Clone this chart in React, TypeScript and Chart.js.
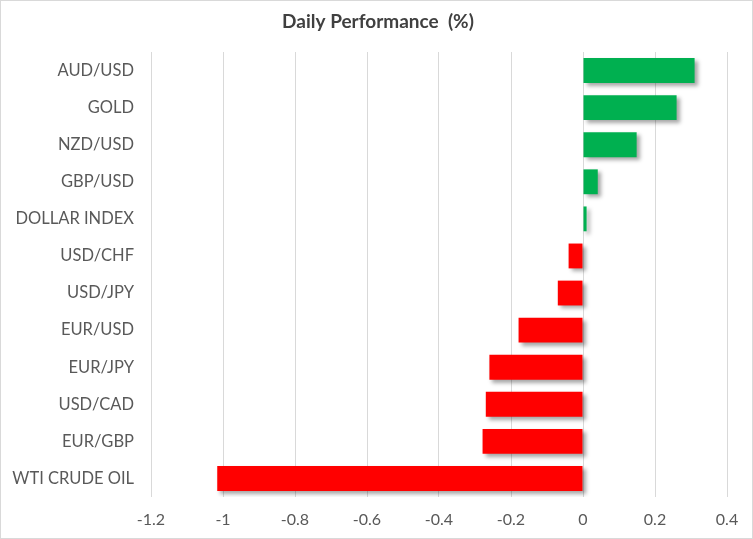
import React, { useEffect, useRef } from "react";
import { Chart, registerables } from "chart.js";

Chart.register(...registerables);

const categories = [
  "AUD/USD",
  "GOLD",
  "NZD/USD",
  "GBP/USD",
  "DOLLAR INDEX",
  "USD/CHF",
  "USD/JPY",
  "EUR/USD",
  "EUR/JPY",
  "USD/CAD",
  "EUR/GBP",
  "WTI CRUDE OIL",
];
const performance = [0.31, 0.26, 0.149, 0.041, 0.01, -0.04, -0.07, -0.179, -0.26, -0.27, -0.279, -1.016];
const chartTitle = "Daily Performance  (%)";
const xMin = -1.2;
const xMax = 0.4;
const xStep = 0.2;

const GREEN = "#00B050";
const RED = "#FF0000";
const FONT = "Lato, 'Open Sans', sans-serif";

const shadowPlugin = {
  id: "barShadow",
  beforeDatasetsDraw(chart: any) {
    const ctx = chart.ctx;
    ctx.save();
    ctx.shadowColor = "rgba(0,0,0,0.35)";
    ctx.shadowBlur = 4;
    ctx.shadowOffsetX = 3;
    ctx.shadowOffsetY = 3;
  },
  afterDatasetsDraw(chart: any) {
    chart.ctx.restore();
  },
};

const titlePlugin = {
  id: "centeredTitle",
  afterDraw(chart: any) {
    const ctx = chart.ctx;
    ctx.save();
    ctx.font = `bold 19px ${FONT}`;
    ctx.fillStyle = "#404040";
    ctx.textAlign = "center";
    ctx.textBaseline = "middle";
    ctx.fillText(chartTitle, chart.width / 2 + 1.5, 21);
    ctx.restore();
  },
};

export default function App() {
  const ref = useRef<HTMLCanvasElement>(null);
  useEffect(() => {
    if (!ref.current) return;
    const chart = new Chart(ref.current, {
      type: "bar",
      data: {
        labels: categories,
        datasets: [
          {
            data: performance,
            backgroundColor: performance.map((v) => (v >= 0 ? GREEN : RED)),
            borderWidth: 0,
            categoryPercentage: 1,
            barPercentage: 0.67,
          },
        ],
      },
      plugins: [shadowPlugin, titlePlugin],
      options: {
        indexAxis: "y",
        animation: false,
        responsive: false,
        maintainAspectRatio: false,
        layout: { padding: { top: 51, left: 0, right: 25, bottom: 0 } },
        plugins: {
          legend: { display: false },
          tooltip: { enabled: false },
          title: { display: false },
        },
        scales: {
          x: {
            type: "linear",
            min: xMin,
            max: xMax,
            ticks: {
              stepSize: xStep,
              color: "#595959",
              font: { family: FONT, size: 16 },
              padding: 13,
              callback: (v: any) => String(Math.round(Number(v) * 10) / 10),
            },
            grid: { color: "#d9d9d9", lineWidth: 1, drawTicks: false },
            border: { display: false },
            afterFit: (s: any) => {
              s.height = 41;
            },
          },
          y: {
            type: "category",
            offset: true,
            ticks: {
              color: "#595959",
              font: { family: FONT, size: 16.5 },
              padding: 17,
              autoSkip: false,
            },
            grid: { display: false, drawTicks: false },
            border: { display: false },
            afterFit: (s: any) => {
              s.width = 150;
            },
          },
        },
      },
    });
    return () => chart.destroy();
  }, []);
  return (
    <div
      style={{
        position: "absolute",
        left: 0,
        top: 0,
        width: 753,
        height: 539,
        boxSizing: "border-box",
        border: "1px solid #d9d9d9",
        background: "#fff",
      }}
    >
      <canvas ref={ref} width={751} height={537} style={{ display: "block" }} />
    </div>
  );
}
